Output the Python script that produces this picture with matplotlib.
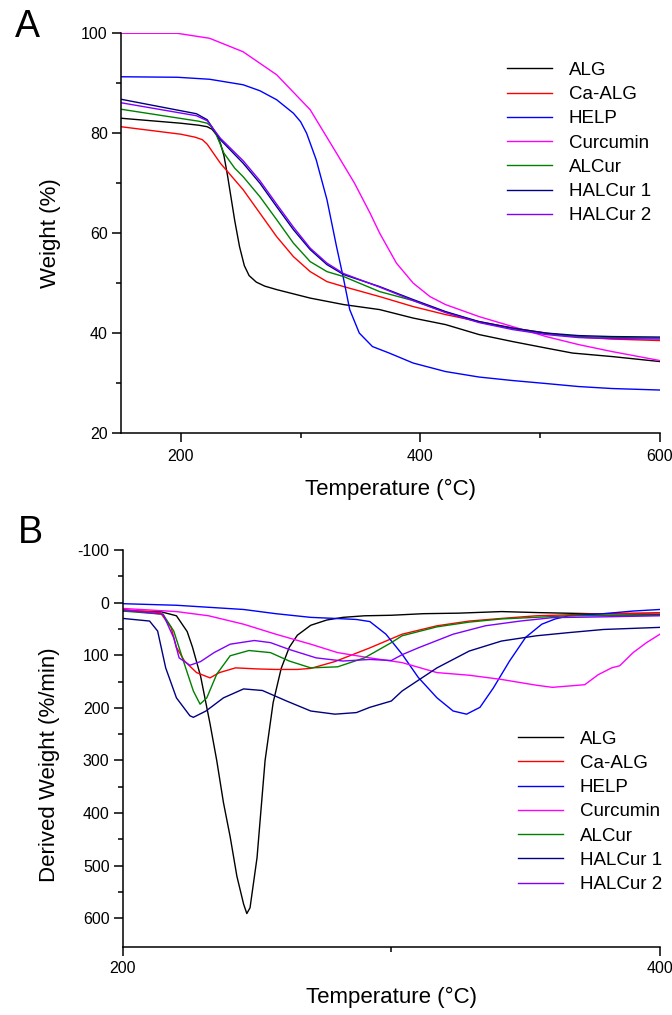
import matplotlib
matplotlib.use("Agg")
import matplotlib.pyplot as plt
from matplotlib.ticker import MultipleLocator, FixedLocator

plt.rcParams['font.family'] = ['Liberation Sans', 'DejaVu Sans']
plt.rcParams['axes.unicode_minus'] = False

names = ["ALG", "Ca-ALG", "HELP", "Curcumin", "ALCur", "HALCur 1", "HALCur 2"]
colors = ["#000000", "#ff0000", "#0000ff", "#ff00ff", "#008000", "#000080", "#8000ff"]

# ---- A: TGA, weight (%) vs temperature
tga_alg_t = [150, 200, 215, 222, 226, 230, 233, 236, 239, 242, 245, 249, 253, 257, 263, 270, 280, 308, 336, 366, 394, 421, 449, 477, 505, 527, 560, 600]
tga_alg_w = [83, 82, 81.6, 81.3, 80.8, 79.6, 78, 75.5, 71.5, 67, 62.5, 57.3, 53.5, 51.5, 50.2, 49.4, 48.7, 47, 45.7, 44.7, 43, 41.7, 39.7, 38.3, 37, 36, 35.3, 34.3]

tga_caalg_t = [150, 200, 212, 218, 222, 233, 252, 266, 280, 294, 308, 322, 336, 366, 394, 421, 449, 477, 505, 532, 560, 600]
tga_caalg_w = [81.3, 79.8, 79.2, 78.7, 77.8, 74, 68.7, 64, 59.3, 55.3, 52.3, 50.3, 49.3, 47.3, 45.3, 43.7, 42.3, 41, 40, 39.2, 38.8, 38.5]

tga_help_t = [150, 197, 224, 252, 266, 280, 294, 300, 305, 313, 322, 330, 336, 341, 349, 360, 374, 394, 421, 449, 477, 505, 532, 560, 600]
tga_help_w = [91.3, 91.2, 90.8, 89.7, 88.5, 86.7, 84, 82.3, 80, 74.7, 66.7, 57.3, 50.7, 44.7, 40, 37.3, 36, 34, 32.3, 31.2, 30.5, 29.9, 29.3, 28.9, 28.6]

tga_cur_t = [150, 197, 224, 252, 280, 308, 330, 345, 358, 366, 380, 394, 408, 421, 449, 477, 505, 532, 560, 600]
tga_cur_w = [100, 100, 99, 96.3, 91.7, 84.7, 76, 70, 64, 60, 54, 50, 47.3, 45.7, 43.3, 41.3, 39.3, 37.7, 36.3, 34.5]

tga_alcur_t = [150, 215, 222, 226, 230, 236, 245, 252, 266, 280, 294, 308, 322, 336, 366, 394, 421, 449, 477, 505, 532, 560, 600]
tga_alcur_w = [84.8, 82.4, 82, 81.2, 79.5, 76, 73, 71.3, 67.3, 62.7, 58, 54.3, 52.3, 51.3, 48.3, 46.5, 44.2, 42.2, 40.9, 39.9, 39.3, 39.1, 39]

tga_hal1_t = [150, 213, 222, 233, 252, 266, 280, 294, 308, 322, 336, 366, 394, 421, 449, 477, 505, 532, 560, 600]
tga_hal1_w = [86.8, 83.9, 82.7, 78.7, 74, 70, 65.3, 60.7, 56.7, 53.7, 51.7, 49.3, 46.7, 44.3, 42.3, 41, 40, 39.5, 39.3, 39.2]

tga_hal2_t = [150, 213, 222, 233, 252, 266, 280, 294, 308, 322, 336, 366, 394, 421, 449, 477, 505, 532, 560, 600]
tga_hal2_w = [86.1, 83.5, 82.5, 79, 74.5, 70.5, 65.8, 61.2, 57, 54, 51.9, 49.2, 46.5, 44.1, 42.1, 40.7, 39.7, 39.1, 38.9, 38.8]

# ---- B: DTG, derived weight (%/min) vs temperature
dtg_alg_t = [200, 214, 220, 224, 226, 229, 232.5, 235, 237.5, 240, 242.5, 245, 246.2, 247.4, 250, 253, 256, 259, 262, 265, 270, 276, 282, 290, 300, 312, 325, 341, 355, 374, 400]
dtg_alg_d = [16, 17, 25, 55, 85, 140, 230, 300, 380, 445, 520, 573, 591, 580, 485, 300, 190, 125, 85, 62, 43, 33, 28, 25, 24, 21, 20, 17, 19, 21, 22]

dtg_caalg_t = [200, 214, 218, 220, 223, 227.5, 232.5, 236, 242, 250, 257, 265, 270, 279, 292, 304, 317, 329, 341, 354, 379, 400]
dtg_caalg_d = [13, 19, 47, 85, 111, 133, 143, 133, 124, 126, 127, 127, 125, 112, 86, 60, 44, 35, 30, 25, 21, 19]

dtg_help_t = [200, 220, 245, 257, 270, 279, 287, 292, 298, 304, 310, 317, 323, 328, 333, 338, 344, 350, 356, 361, 366, 379, 390, 400]
dtg_help_d = [2, 5, 13, 21, 28, 30, 32, 36, 60, 98, 142, 181, 206, 212, 199, 162, 111, 66, 41, 31, 25, 21, 16, 13]

dtg_cur_t = [200, 220, 232, 245, 257, 270, 280, 292, 304, 317, 329, 341, 354, 360, 372, 377, 382, 385, 390, 395, 400]
dtg_cur_d = [11, 17, 25, 41, 60, 79, 95, 105, 114, 133, 138, 146, 157, 161, 156, 137, 124, 120, 95, 76, 60]

dtg_alcur_t = [200, 215, 219, 222.6, 226.3, 228.8, 231.3, 235, 240, 247, 255, 262, 270, 280, 290, 300, 304, 317, 329, 341, 366, 400]
dtg_alcur_d = [16, 22, 54, 111, 168, 193, 181, 136, 101, 91, 95, 111, 124, 122, 105, 76, 63, 46, 37, 31, 25, 24]

dtg_hal1_t = [200, 210, 213, 216, 220, 225, 226.3, 231, 237.5, 245, 252, 261, 270, 279, 287, 292, 300, 304, 317, 329, 341, 354, 366, 379, 400]
dtg_hal1_d = [30, 35, 54, 124, 181, 215, 218, 206, 181, 164, 167, 187, 206, 212, 209, 199, 187, 168, 124, 92, 73, 63, 57, 51, 47]

dtg_hal2_t = [200, 215, 219, 221, 225, 229, 234, 240, 249, 255, 262, 272, 282, 292, 300, 304, 310, 323, 335, 348, 360, 379, 400]
dtg_hal2_d = [14, 22, 67, 105, 119, 112, 95, 79, 72, 76, 89, 105, 111, 108, 110, 99, 86, 60, 44, 35, 28.5, 27, 25]

tga = [(tga_alg_t, tga_alg_w), (tga_caalg_t, tga_caalg_w), (tga_help_t, tga_help_w),
       (tga_cur_t, tga_cur_w), (tga_alcur_t, tga_alcur_w), (tga_hal1_t, tga_hal1_w),
       (tga_hal2_t, tga_hal2_w)]
dtg = [(dtg_alg_t, dtg_alg_d), (dtg_caalg_t, dtg_caalg_d), (dtg_help_t, dtg_help_d),
       (dtg_cur_t, dtg_cur_d), (dtg_alcur_t, dtg_alcur_d), (dtg_hal1_t, dtg_hal1_d),
       (dtg_hal2_t, dtg_hal2_d)]

fig = plt.figure(figsize=(6.72, 10.15), dpi=100)
ax1 = fig.add_axes([0.180, 0.5734, 0.802, 0.3938])
ax2 = fig.add_axes([0.1826, 0.0673, 0.7995, 0.3908])


def style_axes(ax):
    for s in ["top", "right"]:
        ax.spines[s].set_visible(False)
    for s in ["left", "bottom"]:
        ax.spines[s].set_linewidth(1.1)
    ax.tick_params(which="major", direction="out", length=6.5, width=1.1, labelsize=11.5)
    ax.tick_params(which="minor", direction="out", length=3.4, width=1.1)
    ax.tick_params(axis="y", pad=3)


# 画A图
for (t, w), name, c in zip(tga, names, colors):
    ax1.plot(t, w, color=c, lw=1.0, label=name)
ax1.set_xlim(150, 600)
ax1.set_ylim(20, 100)
ax1.xaxis.set_major_locator(FixedLocator([200, 400, 600]))
ax1.xaxis.set_minor_locator(FixedLocator([300, 500]))
ax1.yaxis.set_major_locator(MultipleLocator(20))
ax1.yaxis.set_minor_locator(FixedLocator([30, 50, 70, 90]))
style_axes(ax1)
ax1.tick_params(axis="x", pad=5)
ax1.set_xlabel("Temperature (°C)", fontsize=16)
ax1.set_ylabel("Weight (%)", fontsize=16)
ax1.xaxis.set_label_coords(0.5, -0.115)
ax1.yaxis.set_label_coords(-0.112, 0.5)
ax1.legend(loc="upper left", bbox_to_anchor=(0.7156, 0.9285), frameon=False,
           fontsize=13.5, handlelength=2.4, handletextpad=0.9, labelspacing=0.38,
           borderpad=0, borderaxespad=0)

# 画B图
for (t, d), name, c in zip(dtg, names, colors):
    ax2.plot(t, d, color=c, lw=1.0, label=name)
ax2.set_xlim(200, 400)
ax2.set_ylim(654, -100)
ax2.xaxis.set_major_locator(FixedLocator([200, 400]))
ax2.xaxis.set_minor_locator(FixedLocator([300]))
ax2.yaxis.set_major_locator(FixedLocator(list(range(-100, 700, 100))))
ax2.yaxis.set_minor_locator(FixedLocator(list(range(-50, 600, 100))))
style_axes(ax2)
ax2.tick_params(axis="x", pad=4)
ax2.set_xlabel("Temperature (°C)", fontsize=16)
ax2.set_ylabel("Derived Weight (%/min)", fontsize=16)
ax2.xaxis.set_label_coords(0.5, -0.102)
ax2.yaxis.set_label_coords(-0.117, 0.458)
ax2.legend(loc="upper left", bbox_to_anchor=(0.7357, 0.545), frameon=False,
           fontsize=13.5, handlelength=2.4, handletextpad=0.9, labelspacing=0.38,
           borderpad=0, borderaxespad=0)

fig.text(15 / 672, 1 - 37 / 1015, "A", fontsize=27)
fig.text(18 / 672, 1 - 543 / 1015, "B", fontsize=27)

fig.savefig("out.png", dpi=100)
